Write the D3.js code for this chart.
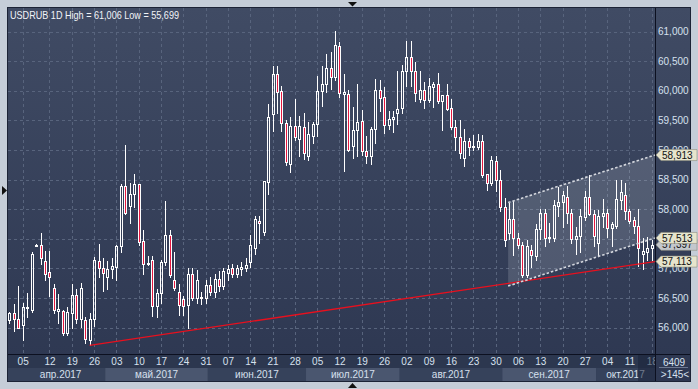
<!DOCTYPE html>
<html>
<head>
<meta charset="utf-8">
<script src="https://cdn.jsdelivr.net/npm/d3@7"></script>
<style>
html, body { margin: 0; padding: 0; background: #c5cdd8; }
svg { display: block; }
text { font-family: "Liberation Sans", Arial, sans-serif; }
</style>
</head>
<body>
<svg id="chart" width="698" height="389"></svg>
<script>
// daily bars, index 0 = first visible bar
const opens = [56.12,56.25,56.14,56.04,56.33,56.30,57.38,57.39,57.13,56.93,56.66,56.28,56.28,55.90,56.24,56.55,56.15,56.13,55.79,56.14,
  57.12,57.00,56.86,56.98,57.03,57.37,58.39,58.06,58.25,58.42,57.46,57.07,57.14,56.36,56.58,57.10,57.56,56.81,56.60,56.48,
  56.38,56.90,56.49,56.50,56.50,56.72,56.60,56.82,56.70,56.92,57.00,56.90,56.98,57.00,57.10,57.35,57.80,57.62,58.46,59.60,
  60.28,59.99,59.45,58.76,59.41,59.19,59.38,58.89,59.23,59.43,59.99,60.12,60.39,60.23,60.76,59.94,59.94,59.07,59.33,59.49,
  58.98,58.89,59.36,60.01,59.89,59.42,59.53,59.63,59.70,60.34,60.57,60.33,59.86,60.02,59.84,60.07,60.11,59.83,59.92,59.70,
  59.38,59.21,58.87,59.15,59.06,59.05,59.15,58.59,58.44,58.81,58.50,58.03,57.60,57.83,57.51,57.39,56.89,57.31,57.20,57.66,
  57.93,57.51,57.52,58.06,58.12,58.21,57.93,57.49,57.55,57.87,58.20,57.91,57.43,57.89,57.94,57.68,57.71,58.15,58.23,57.97,
  57.82,57.71,57.24,57.28,57.34];
const highs = [56.27,56.40,56.70,56.41,56.58,57.28,57.41,57.59,57.30,57.29,56.74,56.56,56.30,56.34,56.73,56.65,56.75,56.18,56.25,57.19,
  57.41,57.18,57.12,57.18,57.39,58.42,59.08,58.44,58.59,58.43,57.65,57.20,57.20,56.65,57.14,58.13,57.65,57.28,56.73,56.53,
  57.01,57.01,56.97,56.60,56.80,56.85,56.90,56.95,57.00,57.05,57.08,57.05,57.10,57.18,57.56,57.88,57.88,58.47,59.78,60.42,
  60.41,60.08,59.51,59.56,59.86,59.57,59.62,59.47,59.47,60.25,60.42,60.62,60.65,61.01,60.83,60.28,60.01,59.72,60.12,59.67,
  59.24,59.38,60.19,60.18,60.06,59.66,59.65,60.33,60.43,60.84,60.84,60.49,60.33,60.14,60.22,60.15,60.30,59.93,60.11,59.86,
  59.51,59.51,59.36,59.20,59.25,59.27,59.26,58.60,58.89,58.90,58.66,58.18,58.11,58.13,57.60,57.45,57.48,57.40,57.74,58.00,
  58.00,57.77,58.15,58.38,58.31,58.39,58.01,57.70,58.00,58.31,58.57,57.99,57.99,58.17,58.01,57.79,58.50,58.50,58.44,58.01,
  57.87,58.00,57.51,57.53,57.47];
const lows = [56.08,55.94,56.00,55.79,56.17,56.27,57.37,57.08,56.81,56.54,56.25,56.08,55.88,55.88,56.00,56.08,56.01,55.73,55.70,56.03,
  56.86,56.62,56.65,56.83,56.81,57.28,57.91,57.77,58.04,57.39,56.90,57.06,56.20,56.17,56.41,57.06,56.86,56.63,56.21,56.21,
  56.00,56.46,56.41,56.40,56.42,56.55,56.52,56.62,56.65,56.80,56.85,56.85,56.88,56.95,57.02,57.25,57.42,57.56,58.26,59.32,
  59.63,59.32,58.75,58.63,59.17,58.90,58.85,58.83,59.12,59.24,59.75,59.97,60.03,60.18,59.89,58.65,58.98,58.87,58.89,58.91,
  58.78,58.76,59.12,59.66,59.29,59.36,59.31,59.44,59.63,60.08,60.08,59.83,59.81,59.70,59.81,59.72,59.79,59.34,59.67,59.36,
  58.99,58.87,58.73,58.91,59.00,59.01,58.55,58.33,58.41,58.31,57.97,57.38,57.49,57.22,57.35,56.86,56.86,57.03,57.14,57.50,
  57.38,57.45,57.46,57.88,57.70,57.77,57.43,57.25,57.28,57.82,57.90,57.37,57.20,57.70,57.53,57.38,57.68,58.01,57.83,57.77,
  57.59,57.04,56.98,57.14,57.14];
const closes = [56.25,56.14,56.00,56.34,56.35,57.25,57.40,57.17,56.90,56.86,56.30,56.31,55.90,56.26,56.55,56.15,56.67,55.80,56.14,57.14,
  57.00,56.92,56.98,57.04,57.38,58.39,57.93,58.25,58.42,57.45,57.07,57.09,56.37,56.58,57.10,57.56,56.88,56.66,56.38,56.37,
  56.90,56.49,56.80,56.51,56.72,56.60,56.82,56.70,56.95,56.98,56.90,57.00,57.02,57.05,57.39,57.84,57.76,58.47,59.56,60.28,
  59.97,59.45,58.80,59.41,59.21,59.41,58.94,59.27,59.43,59.99,60.12,60.38,60.23,60.77,59.96,59.98,59.00,59.34,59.47,58.98,
  58.89,59.35,60.01,59.88,59.42,59.52,59.56,59.69,60.34,60.57,60.34,59.96,60.02,59.84,60.08,60.11,59.83,59.92,59.69,59.38,
  59.21,58.94,59.15,59.05,59.06,59.15,58.58,58.44,58.83,58.50,58.03,57.48,57.83,57.51,57.39,56.89,57.38,57.22,57.66,57.93,
  57.51,57.53,58.07,58.12,58.24,57.93,57.49,57.55,57.88,58.20,57.91,57.55,57.89,57.93,57.68,57.74,58.17,58.29,57.97,57.80,
  57.71,57.34,57.29,57.34,57.39];

// x axis (bar index of each weekly label)
const dayTickIdx = [3,9,14,19,24,29,34,39,44,49,54,59,64,69,74,79,84,89,94,99,104,109,114,119,124,129,134,139,144];
const dayTickLabels = ["05","12","19","26","03","10","17","24","31","07","14","21","28","05","12","19","26","02","09","16","23","30","06","13","20","27","04","11","18"];
const monthNames = ["апр.2017","май.2017","июн.2017","июл.2017","авг.2017","сен.2017","окт.2017"];
const monthStart = [1.5,21.5,44.5,66.5,87.5,110.5,131.5];
const monthEnd = [21.5,44.5,66.5,87.5,110.5,131.5,144.7];

const priceTicks = [56,56.5,57,57.5,58,58.5,59,59.5,60,60.5,61];

// drawn lines: [bar index, price]
const supportLine = [[18,55.699],[144.7,57.113]];
const channelTop = [[111.8,58.11],[144.7,58.913]];
const channelBottom = [[111.8,56.70],[144.7,57.513]];
const lastPrice = 57.397;

const svg = d3.select('#chart');
const pLeft = 8, pRight = 655, pTop = 8, pBottom = 354, outerR = 690, outerB = 381;

const x = d3.scaleLinear().domain([0,144]).range([9.3,651.8]);
const y = d3.scaleLinear().domain([56,61]).range([327.5,31.5]);
const fmt = v => d3.format('.3f')(v).replace('.', ',');

const defs = svg.append('defs');
const grad = defs.append('linearGradient').attr('id','bg').attr('x1',0).attr('y1',0).attr('x2',0).attr('y2',1);
grad.append('stop').attr('offset','0%').attr('stop-color','#404b64');
grad.append('stop').attr('offset','100%').attr('stop-color','#2d3751');
defs.append('clipPath').attr('id','plotclip').append('rect')
	.attr('x',pLeft).attr('y',pTop).attr('width',pRight-pLeft).attr('height',pBottom-pTop);
defs.append('clipPath').attr('id','xclip').append('rect')
	.attr('x',pLeft).attr('y',0).attr('width',pRight-pLeft).attr('height',30);

// frame + panel
svg.append('rect').attr('width',698).attr('height',389).attr('fill','#c5cdd8');
svg.append('rect').attr('x',pLeft-0.5).attr('y',pTop-0.5).attr('width',outerR-pLeft+1).attr('height',outerB-pTop+1)
	.attr('fill','url(#bg)').attr('stroke','#1c2336');

// little arrows on the frame
svg.append('path').attr('d','M2,186 L7,190.5 L2,195 Z').attr('fill','#111');
svg.append('path').attr('d','M348,2 L357,2 L352.5,6.5 Z').attr('fill','#111');
svg.append('path').attr('d','M348,388 L357,388 L352.5,383 Z').attr('fill','#111');

// grid
const grid = svg.append('g').attr('stroke','#58647d').attr('stroke-dasharray','3,3').attr('shape-rendering','crispEdges');
grid.selectAll('.h').data(priceTicks).enter().append('line')
	.attr('x1',pLeft).attr('x2',pRight)
	.attr('y1',d => Math.round(y(d))+0.5).attr('y2',d => Math.round(y(d))+0.5);
grid.selectAll('.v').data(dayTickIdx).enter().append('line')
	.attr('x1',d => Math.round(x(d))+0.5).attr('x2',d => Math.round(x(d))+0.5)
	.attr('y1',pTop).attr('y2',pBottom);

const plot = svg.append('g').attr('clip-path','url(#plotclip)');

// channel shading
const cx0 = x(channelTop[0][0]), cx1 = x(channelTop[1][0]);
plot.append('path')
	.attr('d',`M${cx0},${y(channelTop[0][1])} L${cx1},${y(channelTop[1][1])} L${cx1},${y(channelBottom[1][1])} L${cx0},${y(channelBottom[0][1])} Z`)
	.attr('fill','rgba(225,230,240,0.17)');

// candles
const bars = d3.range(opens.length).map(i => ({i, o: opens[i], h: highs[i], l: lows[i], c: closes[i]}));
const cg = plot.append('g').attr('shape-rendering','crispEdges');
bars.forEach(d => {
	const P = Math.round(x(d.i));
	const yt = Math.round(y(Math.max(d.o,d.c)));
	let yb = Math.round(y(Math.min(d.o,d.c)));
	if (yb - yt < 1) yb = yt + 1;
	const yh = Math.round(y(d.h)), yl = Math.round(y(d.l));
	if (yh < yt) cg.append('line').attr('x1',P+0.5).attr('x2',P+0.5).attr('y1',yh).attr('y2',yt).attr('stroke','#fff');
	if (yl > yb) cg.append('line').attr('x1',P+0.5).attr('x2',P+0.5).attr('y1',yb+1).attr('y2',yl+1).attr('stroke','#fff');
	cg.append('rect')
		.attr('x',P-0.5).attr('y',yt+0.5).attr('width',2).attr('height',yb-yt)
		.attr('fill', d.c < d.o ? '#e5173f' : 'none')
		.attr('stroke','#fff');
});

// support line
plot.append('line')
	.attr('x1',x(supportLine[0][0])).attr('y1',y(supportLine[0][1]))
	.attr('x2',x(supportLine[1][0])).attr('y2',y(supportLine[1][1]))
	.attr('stroke','#e8101e').attr('stroke-width',1.3);

// channel dashed lines
[channelTop, channelBottom].forEach(pts => {
	plot.append('line')
		.attr('x1',x(pts[0][0])).attr('y1',y(pts[0][1]))
		.attr('x2',x(pts[1][0])).attr('y2',y(pts[1][1]))
		.attr('stroke','#d4d7de').attr('stroke-width',1.6).attr('stroke-dasharray','2.5,2');
});

// title
svg.append('text').attr('x',10).attr('y',19)
	.attr('fill','#f2f4f8').attr('font-size','10.5px')
	.attr('textLength',169).attr('lengthAdjust','spacingAndGlyphs')
	.text('USDRUB 1D High = 61,006 Low = 55,699');

// x axis area
svg.append('rect').attr('x',pLeft).attr('y',pBottom).attr('width',pRight-pLeft).attr('height',outerB-pBottom).attr('fill','#2c374f');
const months = monthNames.map((m,i) => ({name: m, s: monthStart[i], e: monthEnd[i], k: i}));
svg.selectAll('.mband').data(months).enter().append('rect')
	.attr('x',d => d.k === 0 ? pLeft : x(d.s)).attr('y',368)
	.attr('width',d => (d.k === months.length-1 ? pRight : x(d.e)) - (d.k === 0 ? pLeft : x(d.s)))
	.attr('height',outerB-368)
	.attr('fill',d => d.k % 2 ? '#4a566f' : '#36425b');
svg.selectAll('.mlab').data(months).enter().append('text')
	.attr('x',d => x((d.s+d.e)/2)).attr('y',377.5)
	.attr('text-anchor','middle').attr('font-size','10px').attr('fill','#d6e0ee')
	.text(d => d.name);

const xAxisG = svg.append('g').attr('transform',`translate(0,${pBottom})`).attr('clip-path','url(#xclip)');
const xAxis = d3.axisBottom(x).tickValues(dayTickIdx).tickFormat((d,i) => dayTickLabels[i]).tickSize(0).tickPadding(4);
xAxisG.call(xAxis);
xAxisG.select('.domain').remove();
xAxisG.selectAll('text').attr('fill','#d6e0ee').attr('font-size','10px').attr('font-family','"Liberation Sans", Arial, sans-serif');

// darker current-week shade at the right end of the axis
svg.append('rect').attr('x',638).attr('y',pBottom+1).attr('width',pRight-638).attr('height',outerB-pBottom-1)
	.attr('fill','#1c243a').attr('opacity',0.55);

// right price axis
const yAxisG = svg.append('g').attr('transform',`translate(${pRight},0)`);
yAxisG.call(d3.axisRight(y).tickValues(priceTicks).tickFormat(fmt).tickSize(0).tickPadding(3));
yAxisG.select('.domain').remove();
yAxisG.selectAll('text').attr('fill','#d6e0ee').attr('font-size','10px').attr('font-family','"Liberation Sans", Arial, sans-serif');

// separators
svg.append('line').attr('x1',pRight+0.5).attr('x2',pRight+0.5).attr('y1',pTop).attr('y2',outerB).attr('stroke','#0c1020').attr('shape-rendering','crispEdges');
svg.append('line').attr('x1',pLeft).attr('x2',outerR).attr('y1',pBottom+0.5).attr('y2',pBottom+0.5).attr('stroke','#0c1020').attr('shape-rendering','crispEdges');

// corner info
svg.append('text').attr('x',674).attr('y',365.5).attr('text-anchor','middle').attr('font-size','10px').attr('fill','#d6e0ee').text('6409');
svg.append('line').attr('x1',659).attr('x2',688).attr('y1',367.5).attr('y2',367.5).attr('stroke','#6c7890');
svg.append('text').attr('x',675).attr('y',377.5).attr('text-anchor','middle').attr('font-size','10px').attr('fill','#d6e0ee').text('>145<');

// price markers on the axis
function marker(v, fill) {
	const yc = y(v);
	const g = svg.append('g');
	g.append('path')
		.attr('d',`M${pRight+1},${yc} L${pRight+6},${yc-5.5} L697,${yc-5.5} L697,${yc+5.5} L${pRight+6},${yc+5.5} Z`)
		.attr('fill',fill).attr('stroke','#8e8e80').attr('stroke-width',0.6);
	g.append('text').attr('x',pRight+7).attr('y',yc+3.6).attr('font-size','10px').attr('fill','#111').text(fmt(v));
}
marker(lastPrice, '#c3c7cc');
marker(channelBottom[1][1], '#e6e4cc');
marker(supportLine[1][1], '#e6e4cc');
marker(channelTop[1][1], '#e6e4cc');
</script>
</body>
</html>
